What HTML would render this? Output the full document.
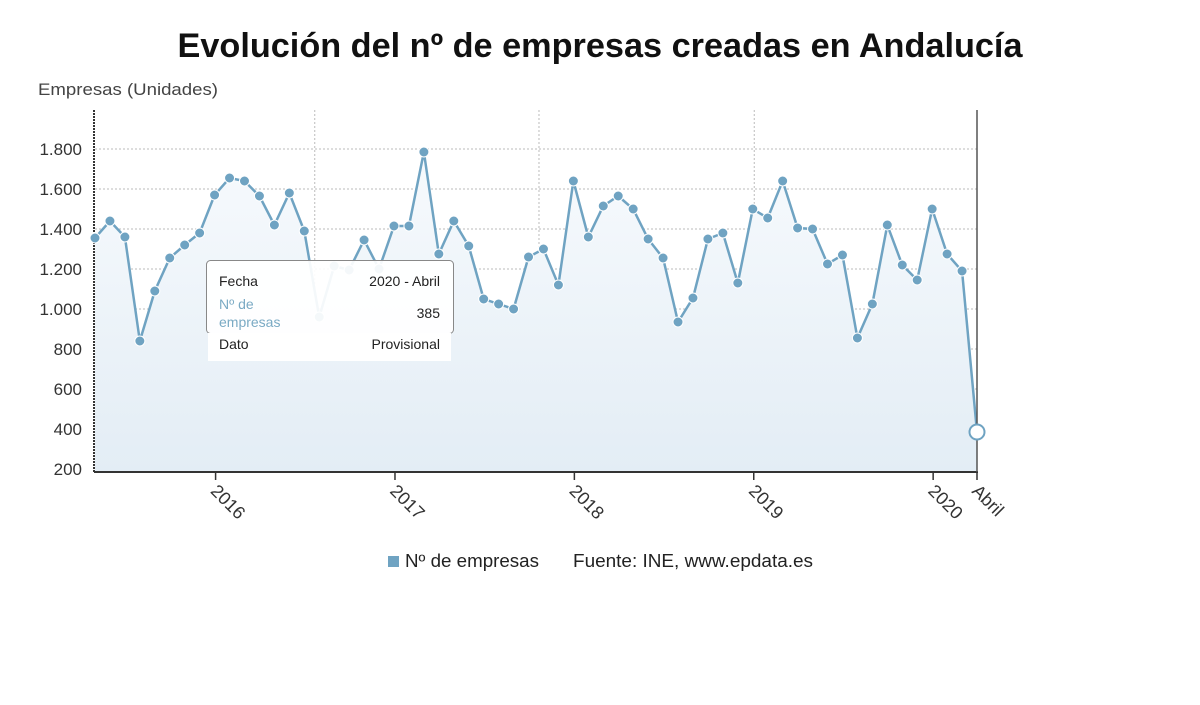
<!DOCTYPE html>
<html><head><meta charset="utf-8"><style>
body{margin:0;width:1200px;height:705px;background:#fff;font-family:"Liberation Sans","DejaVu Sans",sans-serif;overflow:hidden}
</style></head><body>
<svg width="1200" height="705" style="position:absolute;left:0;top:0">
<defs><linearGradient id="g" x1="0" y1="0" x2="0" y2="1"><stop offset="0" stop-color="#f7fafd"/><stop offset="1" stop-color="#e3edf5"/></linearGradient></defs>
<text x="600" y="57" text-anchor="middle" font-size="34" font-weight="bold" fill="#111" textLength="845" lengthAdjust="spacingAndGlyphs">Evolución del nº de empresas creadas en Andalucía</text>
<text x="38" y="95" font-size="17" fill="#444" textLength="180" lengthAdjust="spacingAndGlyphs">Empresas (Unidades)</text>
<g id="grid"></g><g id="area"></g><g id="line"></g><g id="axes"></g><g id="pts"></g>
<g>
<rect x="206.5" y="260.5" width="247" height="73" rx="4" fill="#fff" fill-opacity="0.92" stroke="#888"/>
<rect x="208" y="333" width="243" height="28" fill="#fff"/>
<text x="219" y="286" font-size="14" fill="#222">Fecha</text>
<text x="440" y="286" font-size="14" fill="#222" text-anchor="end">2020 - Abril</text>
<text x="219" y="309" font-size="14" fill="#7aaac4">Nº de</text>
<text x="219" y="327" font-size="14" fill="#7aaac4">empresas</text>
<text x="440" y="318" font-size="14" fill="#222" text-anchor="end">385</text>
<text x="219" y="349" font-size="14" fill="#222">Dato</text>
<text x="440" y="349" font-size="14" fill="#222" text-anchor="end">Provisional</text>
</g>
<g>
<rect x="388" y="556" width="11" height="11" fill="#6fa3c2"/>
<text x="405" y="567" font-size="18" fill="#222" textLength="134" lengthAdjust="spacingAndGlyphs">Nº de empresas</text>
<text x="573" y="567" font-size="18" fill="#222" textLength="240" lengthAdjust="spacingAndGlyphs">Fuente: INE, www.epdata.es</text>
</g>
</svg>
<script>
const values=[1355,1440,1360,840,1090,1255,1320,1380,1570,1655,1640,1565,1420,1580,1390,960,1215,1195,1345,1200,1415,1415,1785,1275,1440,1315,1050,1025,1000,1260,1300,1120,1640,1360,1515,1565,1500,1350,1255,935,1055,1350,1380,1130,1500,1455,1640,1405,1400,1225,1270,855,1025,1420,1220,1145,1500,1275,1190,385];
const yTicks=[200,400,600,800,1000,1200,1400,1600,1800];
const yTickLabels=["200","400","600","800","1.000","1.200","1.400","1.600","1.800"];
const xLabels=["2016","2017","2018","2019","2020","Abril"];
const xLabelIdx=[8,20,32,44,56,59];
const NS="http://www.w3.org/2000/svg";
const X=i=>95+i*(977-95)/(values.length-1);
const Y=v=>469-(v-200)*0.2;
function mk(t,a,p){const e=document.createElementNS(NS,t);for(const k in a)e.setAttribute(k,a[k]);document.getElementById(p).appendChild(e);return e;}
yTicks.forEach((v,i)=>{
 const l=mk('line',{x1:95,x2:977,y1:Y(v),y2:Y(v),stroke:'#bbb','stroke-dasharray':'2,2'},'grid');
 
 
 const t=mk('text',{x:82,y:Y(v)+6,'text-anchor':'end','font-size':17,fill:'#333'},'axes');
 t.textContent=yTickLabels[i];
 
 
});
[14.7,29.7,44.1].forEach(i=>{
 const l=mk('line',{x1:X(i),x2:X(i),y1:110,y2:472,stroke:'#bbb','stroke-dasharray':'2,2'},'grid');
 
 
});
let d='';values.forEach((v,i)=>{d+=(i?'L':'M')+X(i)+','+Y(v);});
const ar=mk('path',{d:d+'L977,472L95,472Z',fill:'url(#g)'},'area');


const ln=mk('path',{d:d,fill:'none',stroke:'#6fa3c2','stroke-width':2.5},'line');


const ax=mk('line',{x1:94,x2:94,y1:110,y2:472,stroke:'#333','stroke-width':2,'stroke-dasharray':'2,1'},'axes');


const xa=mk('line',{x1:94,x2:978,y1:472,y2:472,stroke:'#333','stroke-width':2},'axes');


const ra=mk('line',{x1:977,x2:977,y1:110,y2:472,stroke:'#555','stroke-width':1.5},'axes');


xLabelIdx.forEach((idx,i)=>{
 const x=X(idx)+(i<5?1:0);
 mk('line',{x1:x,x2:x,y1:472,y2:480,stroke:'#333','stroke-width':1.5},'axes');
 const t=mk('text',{x:x-6,y:492,'font-size':18,fill:'#333',transform:`rotate(45 ${x-6} 492)`},'axes');
 t.textContent=xLabels[i];
 
 
});
values.forEach((v,i)=>{
 const last=i===values.length-1;
 const c=mk('circle',{cx:X(i),cy:Y(v),r:last?7.5:5,fill:last?'#fff':'#6fa3c2',stroke:last?'#6fa3c2':'#fff','stroke-width':last?2:1},'pts');
 
 
});
</script>
</body></html>
